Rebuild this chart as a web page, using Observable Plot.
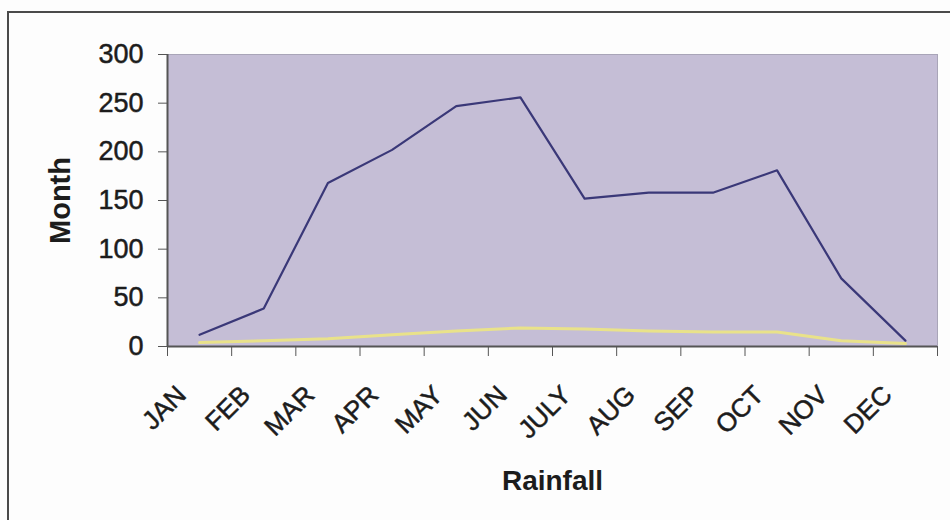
<!DOCTYPE html>
<html>
<head>
<meta charset="utf-8">
<script src="https://cdn.jsdelivr.net/npm/d3@7"></script>
<script src="https://cdn.jsdelivr.net/npm/@observablehq/plot@0.6"></script>
<style>
  html, body { margin: 0; padding: 0; background: #fff; }
  #chart { position: relative; width: 950px; height: 520px; overflow: hidden; background: #fdfdfd; }
  #chart .border { position: absolute; left: 7px; top: 11px; width: 980px; height: 540px;
    border-left: 2px solid #4a4a4a; border-top: 2px solid #4a4a4a; }
  #chart svg { position: absolute; left: 0; top: 0; }
</style>
</head>
<body>
<div id="chart"><div class="border"></div></div>
<script>
// Monthly values
const months = ["JAN", "FEB", "MAR", "APR", "MAY", "JUN", "JULY", "AUG", "SEP", "OCT", "NOV", "DEC"];
const rainfall = [12, 39, 168, 202, 247, 256, 152, 158, 158, 181, 70, 6];
const lowSeries = [4, 6, 8, 12, 16, 19, 18, 16, 15, 15, 6, 3];
const yTicks = [0, 50, 100, 150, 200, 250, 300];

// Each month occupies one unit on a linear x scale; values sit at the unit's centre
const rows = months.map((m, i) => ({month: m, pos: i + 0.5, rain: rainfall[i], low: lowSeries[i]}));
const boundaries = d3.range(months.length + 1);

const axisColor = "#555";
const textColor = "#1c1c1c";

const chart = Plot.plot({
  width: 950,
  height: 520,
  marginLeft: 167,
  marginRight: 13,
  marginTop: 54,
  marginBottom: 174,
  style: {fontFamily: "'Liberation Sans', Arial, sans-serif", background: "transparent", overflow: "visible"},
  x: {domain: [0, months.length]},
  y: {domain: [0, 300]},
  marks: [
    Plot.frame({fill: "#c5bed6", stroke: "#a9a5b8"}),
    Plot.line(rows, {x: "pos", y: "low", stroke: "#e9e28a", strokeWidth: 3}),
    Plot.line(rows, {x: "pos", y: "rain", stroke: "#3a3878", strokeWidth: 2.2}),
    Plot.axisY({ticks: yTicks, tickSize: 9, tickPadding: 15, fontSize: 27, label: null,
      stroke: axisColor, color: textColor, textStroke: textColor, textStrokeWidth: 0.5}),
    Plot.axisX({ticks: boundaries, tickSize: 10, tickFormat: () => "", label: null, stroke: axisColor}),
    Plot.ruleX([0], {stroke: axisColor, strokeWidth: 2}),
    Plot.ruleY([0], {stroke: axisColor, strokeWidth: 2}),
    // rotated month names under the axis
    Plot.text(rows, {x: "pos", text: "month", frameAnchor: "bottom", dx: -12, dy: 50,
      rotate: -45, textAnchor: "end", lineAnchor: "bottom", fontSize: 26, fill: textColor,
      stroke: textColor, strokeWidth: 0.5}),
    // axis titles
    Plot.text(["Month"], {frameAnchor: "left", dx: -107, rotate: -90, textAnchor: "middle",
      lineAnchor: "middle", fontSize: 29, fontWeight: "bold", fill: textColor}),
    Plot.text(["Rainfall"], {frameAnchor: "bottom", dy: 143, textAnchor: "middle",
      lineAnchor: "bottom", fontSize: 28, fontWeight: "bold", fill: textColor})
  ]
});

document.getElementById("chart").appendChild(chart);
</script>
</body>
</html>
